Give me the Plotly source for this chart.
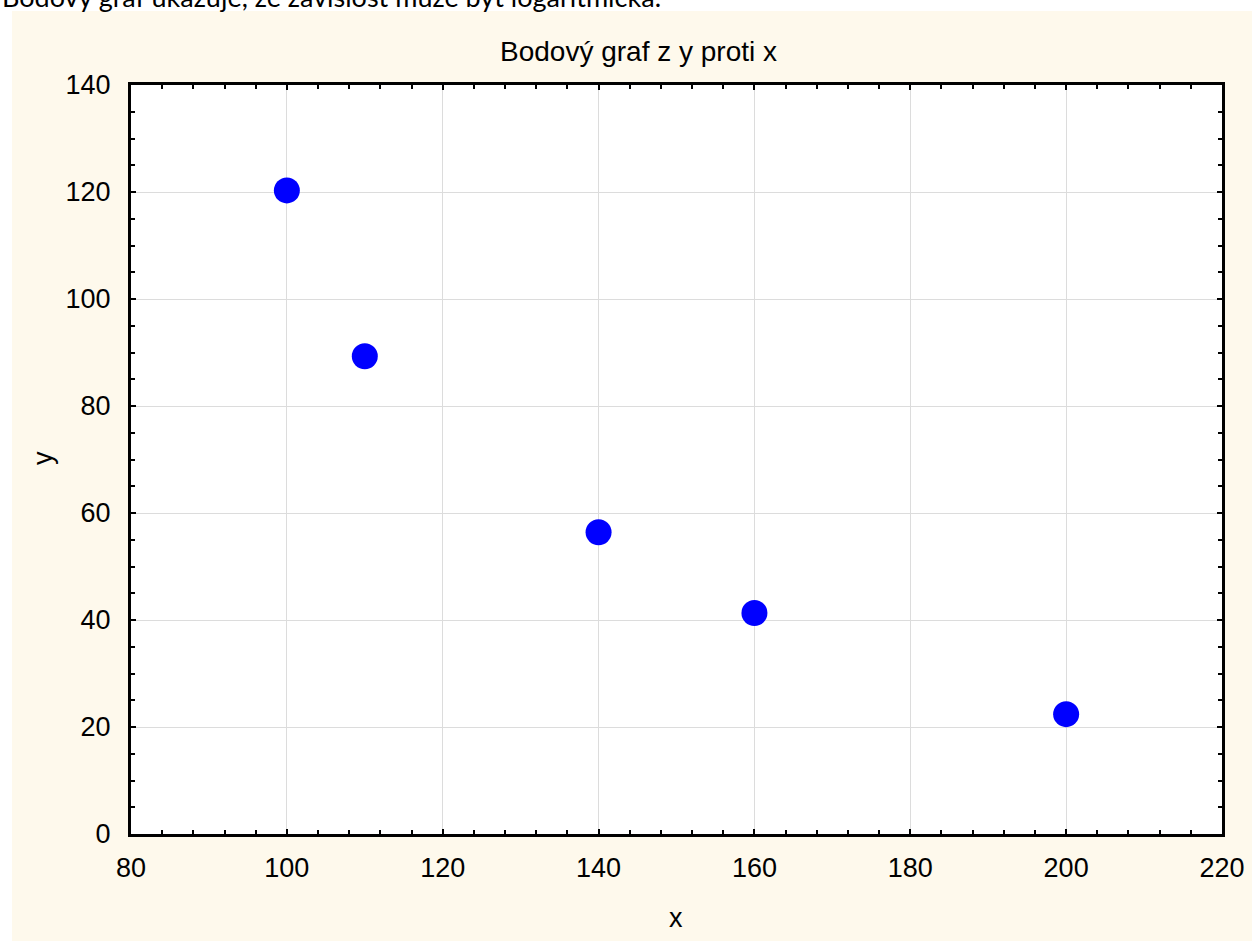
import plotly.graph_objects as go

# Data
x_vals = [100, 110, 140, 160, 200]
y_vals = [120.3, 89.3, 56.4, 41.3, 22.4]

title_text = "Bodový graf z y proti x"
caption_text = "Bodový graf ukazuje, že závislost může být logaritmická."
x_title = "x"
y_title = "y"

W, H = 1252, 941
L, R, T, B = 131, 30, 85, 107
PW, PH = W - L - R, H - T - B

def px_to_paper_x(px):
    return (px - L) / PW

def px_to_paper_y(py):
    return (H - B - py) / PH

cream = "#FEF9EC"
font_family = "Liberation Sans, Arial, sans-serif"

fig = go.Figure()
fig.add_trace(go.Scatter(
    x=x_vals, y=y_vals, mode="markers",
    marker=dict(size=26, color="#0000FF", line=dict(width=0)),
    showlegend=False, cliponaxis=False,
))

axis_common = dict(
    showline=True, linecolor="black", linewidth=3, mirror="allticks",
    ticks="inside", ticklen=5, tickwidth=2, tickcolor="black",
    showgrid=True, gridcolor="#DCDCDC", gridwidth=1,
    zeroline=False, automargin=False,
    tickfont=dict(family=font_family, size=27, color="black"),
)

fig.update_xaxes(
    range=[80, 220], tick0=80, dtick=20,
    minor=dict(ticks="inside", dtick=4, ticklen=4, tickwidth=2, tickcolor="black", showgrid=False),
    ticklabelstandoff=8,
    **axis_common,
)
fig.update_yaxes(
    range=[0, 140], tick0=0, dtick=20,
    minor=dict(ticks="inside", dtick=5, ticklen=4, tickwidth=2, tickcolor="black", showgrid=False),
    ticklabelstandoff=12,
    **axis_common,
)

shapes = [
    # white top strip
    dict(type="rect", xref="paper", yref="paper",
         x0=px_to_paper_x(0), x1=px_to_paper_x(W), y0=px_to_paper_y(11), y1=px_to_paper_y(0),
         fillcolor="white", line=dict(width=0), layer="below"),
    # white left strip
    dict(type="rect", xref="paper", yref="paper",
         x0=px_to_paper_x(0), x1=px_to_paper_x(12), y0=px_to_paper_y(H), y1=px_to_paper_y(0),
         fillcolor="white", line=dict(width=0), layer="below"),
]

annotations = [
    dict(text=title_text, xref="paper", yref="paper",
         x=px_to_paper_x(638), y=px_to_paper_y(52), xanchor="center", yanchor="middle",
         showarrow=False, font=dict(family=font_family, size=28, color="black")),
    dict(text=caption_text, xref="paper", yref="paper",
         x=px_to_paper_x(0), y=px_to_paper_y(-3), xanchor="left", yanchor="middle",
         showarrow=False, font=dict(family="Lato, Open Sans, sans-serif", size=27, color="black")),
    dict(text=x_title, xref="paper", yref="paper",
         x=px_to_paper_x(676), y=px_to_paper_y(918), xanchor="center", yanchor="middle",
         showarrow=False, font=dict(family=font_family, size=27, color="black")),
    dict(text=y_title, xref="paper", yref="paper", textangle=-90,
         x=px_to_paper_x(43), y=px_to_paper_y(458), xanchor="center", yanchor="middle",
         showarrow=False, font=dict(family=font_family, size=27, color="black")),
]

fig.update_layout(
    width=W, height=H,
    margin=dict(l=L, r=R, t=T, b=B, pad=0, autoexpand=False),
    paper_bgcolor=cream, plot_bgcolor="white",
    shapes=shapes, annotations=annotations,
    showlegend=False,
)

fig.write_html("out.html")
